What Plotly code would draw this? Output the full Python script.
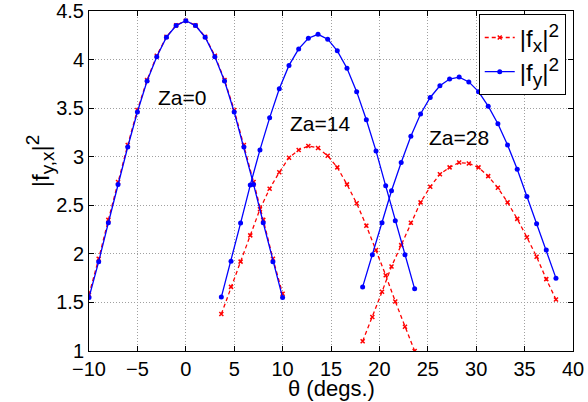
import plotly.graph_objects as go

# ---- data ----
theta_za0 = [-10, -9, -8, -7, -6, -5, -4, -3, -2, -1, 0, 1, 2, 3, 4, 5, 6, 7, 8, 9, 10]
fy_za0 = [1.55, 1.92, 2.32, 2.715, 3.10, 3.46, 3.78, 4.03, 4.23, 4.35, 4.40,
          4.35, 4.23, 4.03, 3.78, 3.46, 3.10, 2.715, 2.32, 1.92, 1.55]
fx_za0 = [1.58, 1.95, 2.35, 2.74, 3.12, 3.48, 3.79, 4.04, 4.235, 4.352, 4.40,
          4.352, 4.235, 4.04, 3.79, 3.48, 3.12, 2.74, 2.35, 1.95, 1.59]

theta_za14 = [3.67, 4.67, 5.66, 6.66, 7.66, 8.66, 9.66, 10.66, 11.66, 12.66, 13.66,
              14.66, 15.65, 16.65, 17.65, 18.65, 19.65, 20.65, 21.64, 22.64, 23.64]
fy_za14 = [1.555, 1.925, 2.317, 2.708, 3.07, 3.40, 3.70, 3.94, 4.11, 4.22, 4.26,
           4.21, 4.09, 3.91, 3.67, 3.38, 3.06, 2.70, 2.34, 1.99, 1.64]
fx_za14 = [1.38, 1.66, 1.92, 2.19, 2.46, 2.67, 2.84, 2.99, 3.07, 3.11, 3.09,
           3.01, 2.89, 2.715, 2.52, 2.29, 2.04, 1.78, 1.51, 1.25, 1.00]

theta_za28 = [18.27, 19.27, 20.27, 21.25, 22.25, 23.25, 24.25, 25.25, 26.25, 27.25, 28.24,
              29.24, 30.24, 31.24, 32.24, 33.24, 34.24, 35.24, 36.24, 37.24, 38.24]
fy_za28 = [1.66, 1.99, 2.32, 2.65, 2.94, 3.21, 3.44, 3.61, 3.73, 3.80, 3.82,
           3.77, 3.67, 3.52, 3.34, 3.12, 2.87, 2.59, 2.31, 2.04, 1.75]
fx_za28 = [1.10, 1.35, 1.61, 1.87, 2.09, 2.32, 2.53, 2.69, 2.82, 2.89, 2.94,
           2.93, 2.89, 2.80, 2.68, 2.53, 2.36, 2.17, 1.97, 1.74, 1.53]

labels = ["Za=0", "Za=14", "Za=28"]
label_x = [-0.4, 13.9, 28.2]
label_y = [3.61, 3.34, 3.20]

x_ticks = [-10, -5, 0, 5, 10, 15, 20, 25, 30, 35, 40]
y_ticks = [1, 1.5, 2, 2.5, 3, 3.5, 4, 4.5]

SS = "<span style='font-size:19px'>{}</span>"
name_fx = "|f<sub>" + SS.format("x") + "</sub>|<sup>" + SS.format("2") + "</sup>"
name_fy = "|f<sub>" + SS.format("y") + "</sub>|<sup>" + SS.format("2") + "</sup>"
x_title = "θ (degs.)"
y_title = "|f<sub>" + SS.format("y,x") + "</sub>|<sup>" + SS.format("2") + "</sup>"

RED = "#ff0000"
BLUE = "#0000ff"
FONT = "Liberation Sans, Arial, sans-serif"

fig = go.Figure()
groups = [(theta_za0, fx_za0, fy_za0), (theta_za14, fx_za14, fy_za14), (theta_za28, fx_za28, fy_za28)]
for i, (th, fx, fy) in enumerate(groups):
    fig.add_trace(go.Scatter(
        x=th, y=fx, mode="lines+markers", name=name_fx,
        legendgroup="fx", showlegend=(i == 0),
        line=dict(color=RED, width=1.3, dash="4px,3px"),
        marker=dict(color=RED, size=4, symbol="x-thin", line=dict(color=RED, width=1.5)),
    ))
for i, (th, fx, fy) in enumerate(groups):
    fig.add_trace(go.Scatter(
        x=th, y=fy, mode="lines+markers", name=name_fy,
        legendgroup="fy", showlegend=(i == 0),
        line=dict(color=BLUE, width=1.3),
        marker=dict(color=BLUE, size=5, symbol="circle"),
    ))

for t, xx, yy in zip(labels, label_x, label_y):
    fig.add_annotation(x=xx, y=yy, text=t, showarrow=False,
                       font=dict(family=FONT, size=21, color="black"))

# axis titles placed as annotations for exact positioning
fig.add_annotation(xref="paper", yref="paper", x=0.5, y=-0.109, text=x_title,
                   showarrow=False, xanchor="center", yanchor="middle",
                   font=dict(family=FONT, size=22, color="black"))
fig.add_annotation(xref="paper", yref="paper", x=-0.102, y=0.56, text=y_title,
                   showarrow=False, xanchor="center", yanchor="middle", textangle=-90,
                   font=dict(family=FONT, size=24, color="black"))

axis_common = dict(
    showline=True, linecolor="black", linewidth=1, mirror="ticks",
    ticks="inside", ticklen=5, tickcolor="black",
    showgrid=True, gridcolor="#a0a0a0", griddash="1px,2px", gridwidth=1,
    zeroline=False, tickfont=dict(family=FONT, size=20, color="black"),
)
fig.update_xaxes(range=[-10, 40], tickvals=x_ticks, **axis_common)
fig.update_yaxes(range=[1, 4.5], tickvals=y_ticks, **axis_common)

fig.update_layout(
    width=588, height=402,
    margin=dict(l=89, r=15, t=11, b=51, autoexpand=False),
    plot_bgcolor="white", paper_bgcolor="white",
    font=dict(family=FONT, color="black"),
    legend=dict(x=0.985, y=0.99, xanchor="right", yanchor="top",
                bordercolor="black", borderwidth=1, bgcolor="white",
                font=dict(family=FONT, size=24, color="black"),
                itemwidth=30, tracegroupgap=0),
)

fig.write_html(
    "out.html",
    config={"displayModeBar": False},
    post_script="document.body.style.margin='0';document.body.style.overflow='hidden';",
)
